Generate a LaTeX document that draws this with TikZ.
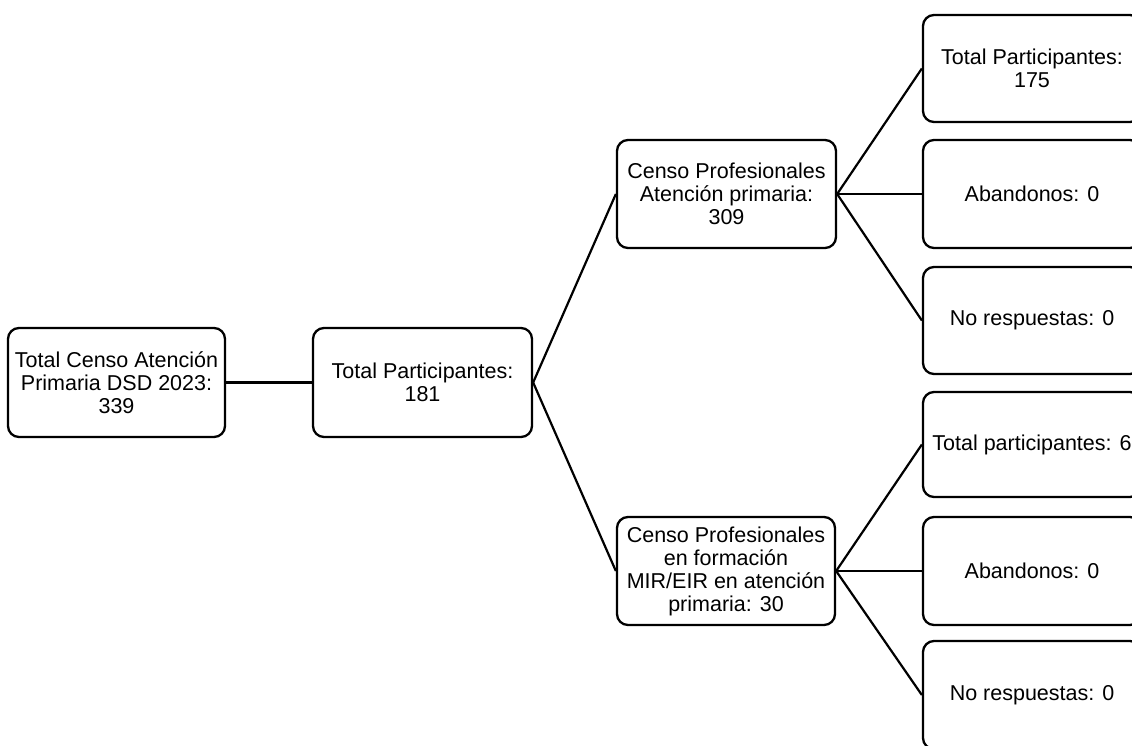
\documentclass[tikz,border=0pt]{standalone}
\usepackage{fontspec}
\setmainfont{Liberation Sans}
\begin{document}
\begin{tikzpicture}[x=1pt,y=-1pt,
  box/.style={draw=black, line width=2.3pt, rounded corners=11pt, align=center,
    inner sep=0pt, font=\fontsize{21.5}{23}\selectfont, text=black},
  link/.style={draw=black, line width=2.2pt}]
\useasboundingbox (0,0) rectangle (1132,745);
\clip (0,0) rectangle (1132,745);
\fill[white] (0,0) rectangle (1132,745);
% first level
\node[box, minimum width=217pt, minimum height=109pt] (A) at (116.5,382.5)
  {Total Censo Atención\\Primaria DSD 2023:\\339};
\node[box, minimum width=219pt, minimum height=109pt] (B) at (422.5,382.5)
  {Total Participantes:\\181};
% second level
\node[box, minimum width=219pt, minimum height=108pt] (C) at (726.5,194)
  {Censo Profesionales\\Atención primaria:\\309};
\node[box, minimum width=218pt, minimum height=108pt] (D) at (726,571)
  {Censo Profesionales\\en formación\\MIR/EIR en atención\\primaria: 30};
% leaves
\node[box, minimum width=218pt, minimum height=107pt] (L1) at (1032,68.5)
  {Total Participantes:\\175};
\node[box, minimum width=218pt, minimum height=108pt] (L2) at (1032,194)
  {Abandonos: 0};
\node[box, minimum width=218pt, minimum height=107pt] (L3) at (1032,320.5)
  {No respuestas: 0};
\node[box, minimum width=218pt, minimum height=105pt] (L4) at (1032,444.5)
  {Total participantes: 6};
\node[box, minimum width=218pt, minimum height=108pt] (L5) at (1032,571)
  {Abandonos: 0};
\node[box, minimum width=218pt, minimum height=108pt] (L6) at (1032,695)
  {No respuestas: 0};
% connectors
\draw[link] (A.east) -- (B.west);
\draw[link] (B.east) -- (C.west);
\draw[link] (B.east) -- (D.west);
\draw[link] (C.east) -- (L1.west);
\draw[link] (C.east) -- (L2.west);
\draw[link] (C.east) -- (L3.west);
\draw[link] (D.east) -- (L4.west);
\draw[link] (D.east) -- (L5.west);
\draw[link] (D.east) -- (L6.west);
\end{tikzpicture}
\end{document}
